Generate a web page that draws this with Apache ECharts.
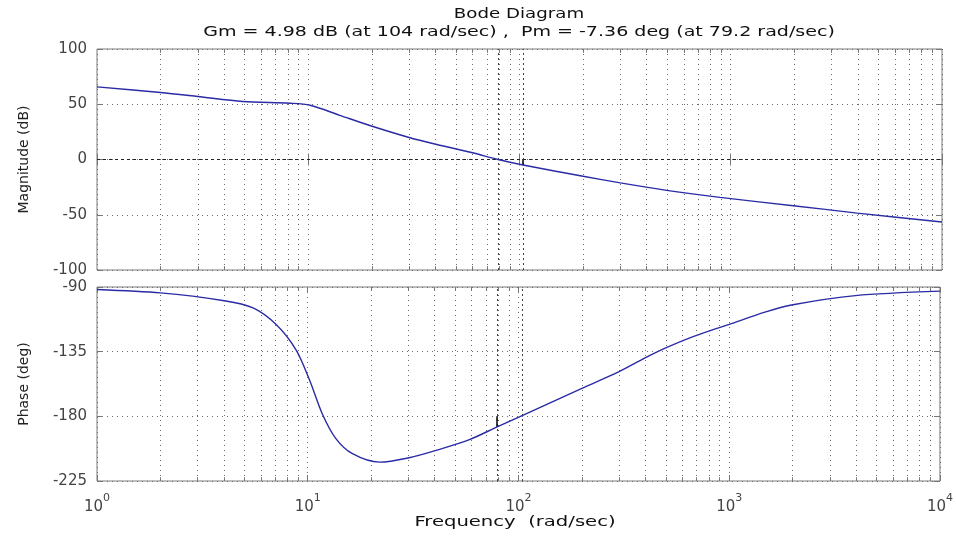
<!DOCTYPE html>
<html><head><meta charset="utf-8">
<script src="https://cdn.jsdelivr.net/npm/echarts@6/dist/echarts.min.js"></script>
<style>html,body{margin:0;padding:0;background:#fff}#c{width:956px;height:539px}</style>
</head><body><div id="c"></div>
<script>
// ---- data ----
const titleLine1 = 'Bode Diagram';
const titleLine2 = 'Gm = 4.98 dB (at 104 rad/sec) ,  Pm = -7.36 deg (at 79.2 rad/sec)';
const xName = 'Frequency  (rad/sec)';
const magName = 'Magnitude (dB)';
const phaseName = 'Phase (deg)';

const magFreq = [1, 2, 3, 4.9, 8.2, 10.2, 14.1, 19.9, 30.3, 40.6, 60, 79.2, 104, 200, 300, 497, 890, 1976, 3968, 10000];
const magDb   = [65.7, 60.6, 57, 52.5, 50.9, 49.1, 40, 30.3, 19.7, 13.6, 6.1, 0, -4.98, -15.2, -21.2, -27.9, -34.3, -41.8, -48.5, -56.6];

const phFreq  = [1, 2, 3.95, 5.5, 7.1, 8.8, 10.2, 11.7, 13.6, 16.3, 21.9, 30.3, 40.6, 58.5, 79.2, 101, 200, 300, 410, 497, 660, 890, 1000, 1477, 1976, 3968, 10000];
const phDeg   = [-91.7, -94.1, -99.4, -104.5, -116.2, -133.7, -154.7, -178, -195.5, -206, -211.9, -208.8, -203.7, -196.2, -187.36, -180.4, -160.5, -148.9, -138.4, -132.5, -125, -118.5, -116, -107.5, -102.5, -96, -92.9];

const decades = [1, 10, 100, 1000, 10000];
const magRange = [-100, 100], magStep = 50;
const phRange = [-225, -90], phStep = 45;

const gmFreq = 104, gmDb = 4.98;
const pmFreq = 79.2, pmDeg = -7.36;

// ---- helpers ----
const FONT = 'DejaVu Sans';
const minorFreqs = [];
for (let k = 0; k < decades.length - 1; k++) for (let m = 2; m <= 9; m++) minorFreqs.push(m * decades[k]);

const gridStyle = { color: '#6a6a6a', type: [1, 4], width: 1 };

function vLines(freqs, style) { return freqs.map(f => ({ xAxis: f, lineStyle: style })); }
function edgeTicks(freqs, lo, hi, len) {
  const out = [];
  const st = { color: '#777', type: 'solid', width: 1 };
  freqs.forEach(f => {
    out.push([{ coord: [f, lo], lineStyle: st }, { coord: [f, lo + len] }]);
    out.push([{ coord: [f, hi], lineStyle: st }, { coord: [f, hi - len] }]);
  });
  return out;
}

function xAxisCfg(grid, pos, labels) {
  return {
    type: 'log', logBase: 10, min: decades[0], max: decades[decades.length - 1], splitNumber: 4,
    gridIndex: grid, position: pos,
    axisLine: { show: false },
    axisTick: { show: true, inside: true, length: 6, lineStyle: { color: '#777' } },
    axisLabel: labels ? {
      show: true, margin: 12,
      formatter: v => '{b|10}{s|' + Math.round(Math.log10(v)) + '}',
      rich: {
        b: { fontSize: 15, fontFamily: FONT, color: '#444', verticalAlign: 'bottom', lineHeight: 22 },
        s: { fontSize: 11, fontFamily: FONT, color: '#444', verticalAlign: 'top', lineHeight: 22 }
      }
    } : { show: false },
    splitLine: { show: pos === 'bottom', lineStyle: gridStyle }
  };
}
function yAxisCfg(grid, pos, range, step, name) {
  const left = pos === 'left';
  return {
    type: 'value', min: range[0], max: range[1], interval: step,
    gridIndex: grid, position: pos,
    axisLine: { show: false },
    axisTick: { show: true, inside: true, length: 6, lineStyle: { color: '#777' } },
    axisLabel: left ? { show: true, margin: 10, fontSize: 15, fontFamily: FONT, color: '#444' } : { show: false },
    splitLine: { show: left, lineStyle: gridStyle },
    name: left ? name : '', nameLocation: 'middle', nameGap: 66, nameRotate: 90,
    nameTextStyle: { fontSize: 14, fontFamily: FONT, color: '#222' }
  };
}

const marginStyle = { color: '#444', type: [2, 3], width: 1 };
const barStyle = { color: '#000', type: 'solid', width: 1.5 };

function stretchedText(str, x, y, sx) {
  return { type: 'text', x: x, y: y, scaleX: sx, silent: true,
    style: { text: str, font: '14px "' + FONT + '"', fill: '#111', align: 'center', verticalAlign: 'middle' } };
}

const option = {
  animation: false,
  backgroundColor: '#fff',
  graphic: [
    stretchedText(titleLine1, 519, 14, 1.3),
    stretchedText(titleLine2, 519, 32, 1.36),
    stretchedText(xName, 515, 522, 1.4)
  ],
  grid: [
    { left: 97, right: 14, top: 49, height: 221, show: true, borderColor: '#7a7a7a', borderWidth: 1, backgroundColor: '#fff' },
    { left: 97, right: 14, top: 287, height: 194, show: true, borderColor: '#7a7a7a', borderWidth: 1, backgroundColor: '#fff' }
  ],
  xAxis: [xAxisCfg(0, 'bottom', false), xAxisCfg(0, 'top', false), xAxisCfg(1, 'bottom', true), xAxisCfg(1, 'top', false)],
  yAxis: [yAxisCfg(0, 'left', magRange, magStep, magName), yAxisCfg(0, 'right', magRange, magStep, ''),
          yAxisCfg(1, 'left', phRange, phStep, phaseName), yAxisCfg(1, 'right', phRange, phStep, '')],
  series: [
    {
      type: 'line', xAxisIndex: 0, yAxisIndex: 0, showSymbol: false, smooth: 0.3,
      data: magFreq.map((f, i) => [f, magDb[i]]),
      lineStyle: { color: '#2b2ba6', width: 1.4 }, itemStyle: { color: '#2b2ba6' }, z: 5,
      markLine: {
        silent: true, symbol: ['none', 'none'], label: { show: false }, animation: false,
        data: [].concat(
          vLines(minorFreqs, gridStyle),
          [{ yAxis: 0, lineStyle: { color: '#222', type: [3, 3], width: 1 } }],
          vLines([pmFreq, gmFreq], marginStyle),
          edgeTicks(minorFreqs, magRange[0], magRange[1], 3.5),
          [[{ coord: [gmFreq, 0], lineStyle: barStyle }, { coord: [gmFreq, -gmDb] }]]
        )
      }
    },
    {
      type: 'line', xAxisIndex: 2, yAxisIndex: 2, showSymbol: false, smooth: 0.3,
      data: phFreq.map((f, i) => [f, phDeg[i]]),
      lineStyle: { color: '#2b2ba6', width: 1.4 }, itemStyle: { color: '#2b2ba6' }, z: 5,
      markLine: {
        silent: true, symbol: ['none', 'none'], label: { show: false }, animation: false,
        data: [].concat(
          vLines(minorFreqs, gridStyle),
          vLines([pmFreq, gmFreq], marginStyle),
          edgeTicks(minorFreqs, phRange[0], phRange[1], 2.6),
          [[{ coord: [pmFreq, -180], lineStyle: barStyle }, { coord: [pmFreq, -180 + pmDeg] }]]
        )
      }
    }
  ]
};
const chart = echarts.init(document.getElementById('c'), null, { renderer: 'canvas' });
chart.setOption(option);
</script>
</body></html>
